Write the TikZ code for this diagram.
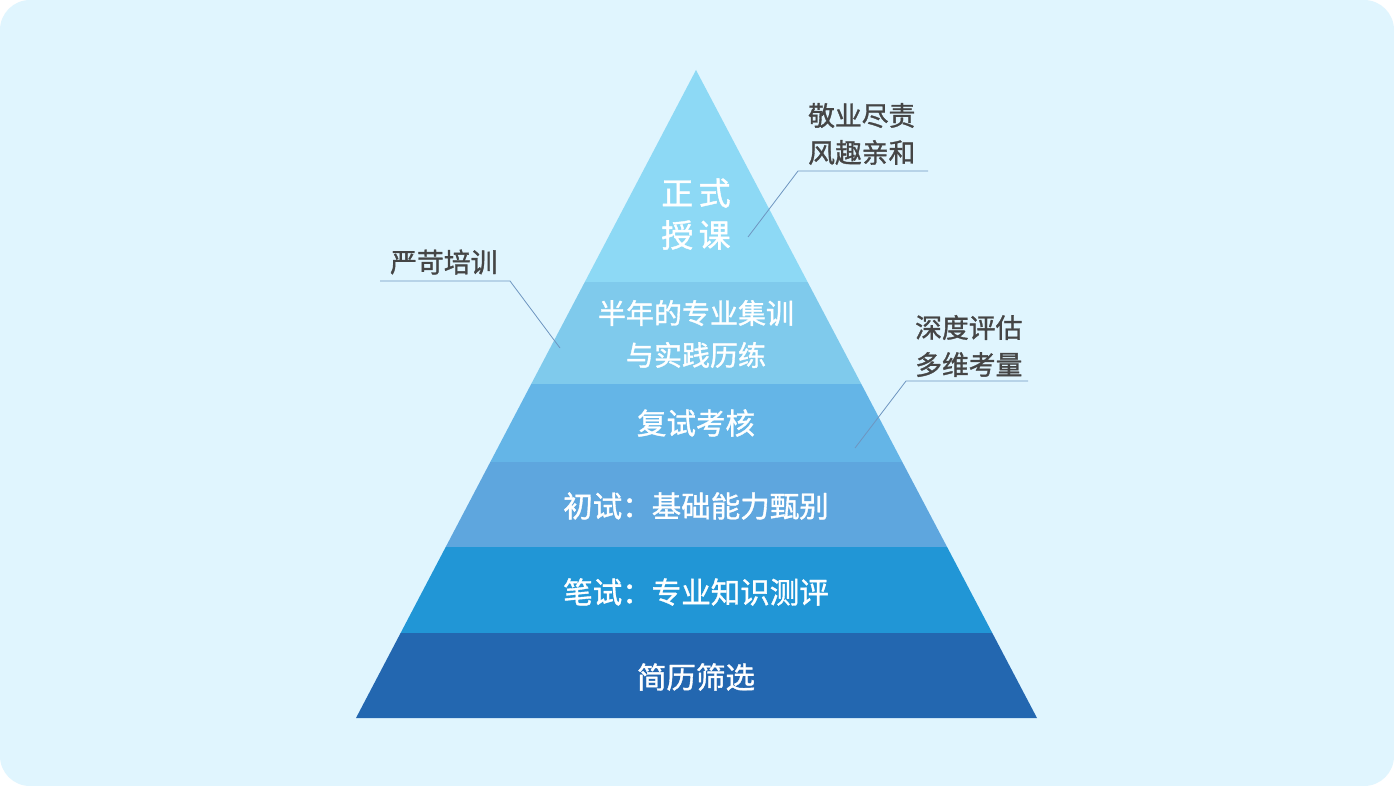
\documentclass[tikz,border=0pt]{standalone}
\usepackage{fontspec}
\newfontfamily\cjk[FakeBold=1.2]{Noto Sans CJK SC}
\definecolor{bgc}{HTML}{E0F5FE}
\definecolor{c1}{HTML}{8DD9F5}
\definecolor{c2}{HTML}{7FCAEC}
\definecolor{c3}{HTML}{64B5E7}
\definecolor{c4}{HTML}{5EA6DE}
\definecolor{c5}{HTML}{2196D6}
\definecolor{c6}{HTML}{2367B0}
\definecolor{lead}{HTML}{6E95C0}
\definecolor{lbl}{HTML}{454545}
\tikzset{
  inner/.style={text=white,font=\cjk\fontsize{29.5}{42}\selectfont,align=center,inner sep=0pt},
  mid/.style={text=white,font=\cjk\fontsize{28}{42}\selectfont,align=center,inner sep=0pt},
  big/.style={text=white,font=\cjk\fontsize{32}{42}\selectfont,align=center,inner sep=0pt},
  side/.style={text=lbl,font=\cjk\fontsize{26.8}{37}\selectfont,align=left,inner sep=0pt},
  leader/.style={draw=lead,line width=0.8pt},
}
\begin{document}
\begin{tikzpicture}[x=1pt,y=-1pt]
\fill[white] (0,0) rectangle (1394,786);
\useasboundingbox (0,0) rectangle (1394,786);
\fill[bgc,rounded corners=30pt] (0,0) rectangle (1394,786);
% pyramid: apex (696,70), base y=718 from 356 to 1037
\fill[c1] (696,70) -- (807.6,282) -- (584.8,282) -- cycle;
\fill[c2] (584.8,282) -- (807.6,282) -- (861.3,384) -- (531.2,384) -- cycle;
\fill[c3] (531.2,384) -- (861.3,384) -- (902.3,462) -- (490.3,462) -- cycle;
\fill[c4] (490.3,462) -- (902.3,462) -- (947.1,547) -- (445.7,547) -- cycle;
\fill[c5] (445.7,547) -- (947.1,547) -- (992.3,633) -- (400.6,633) -- cycle;
\fill[c6] (400.6,633) -- (992.3,633) -- (1037,718) -- (356,718) -- cycle;
% texts inside
\node[big] (t1) at (696,214) {正\,式\\授\,课};
\node[mid] (t2) at (696,334) {半年的专业集训\\与实践历练};
\node[inner] (t3) at (696,423) {复试考核};
\node[inner] (t4) at (696,506) {初试：基础能力甄别};
\node[inner] (t5) at (696,592) {笔试：专业知识测评};
\node[inner] (t6) at (696,677) {简历筛选};
% side labels
\node[side,anchor=west] (s1) at (808,134) {敬业尽责\\风趣亲和};
\node[side,anchor=west] (s2) at (390,262) {严苛培训};
\node[side,anchor=west] (s3) at (915,346) {深度评估\\多维考量};
% leader lines
\coordinate (a1) at (748,237); \coordinate (b1) at (798,171); \coordinate (e1) at (928,171);
\coordinate (a2) at (560,348); \coordinate (b2) at (510,281); \coordinate (e2) at (380,281);
\coordinate (a3) at (855,448); \coordinate (b3) at (906,381); \coordinate (e3) at (1028,381);
\draw[leader] (a1) -- (b1) -- (e1);
\draw[leader] (a2) -- (b2) -- (e2);
\draw[leader] (a3) -- (b3) -- (e3);
\end{tikzpicture}
\end{document}
